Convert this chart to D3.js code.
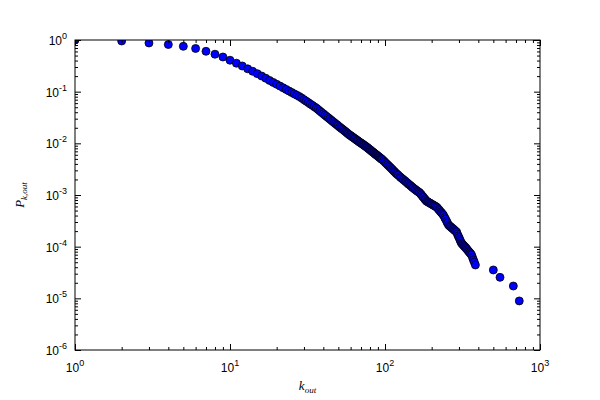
<!DOCTYPE html>
<html>
<head>
  <script src="https://d3js.org/d3.v7.min.js"></script>
  <style>
    body { margin: 0; padding: 0; background: white; overflow: hidden; }
    svg { display: block; }
  </style>
</head>
<body>
  <svg width="600" height="400"></svg>
  <script>
    // out-degree values and the cumulative probability
    const kOut = [
      1, 2, 3, 4, 5, 6, 7, 8, 9, 10, 11, 12, 13, 14, 15, 16, 17, 18, 19, 20,
      21, 22, 23, 24, 25, 26, 27, 28, 29, 30, 31, 32, 33, 34, 35, 36, 37, 38, 39, 40,
      41, 42, 43, 44, 45, 46, 47, 48, 49, 50, 51, 52, 53, 54, 55, 56, 57, 58, 59, 60,
      61, 62, 63, 64, 65, 66, 67, 68, 69, 70, 71, 72, 73, 74, 75, 76, 77, 78, 79, 80,
      81, 82, 83, 84, 85, 86, 87, 88, 89, 90, 91, 92, 93, 94, 95, 96, 98, 100,
      102, 104, 106, 108, 110, 112, 114, 116, 118, 120, 122, 125, 127, 130, 132,
      135, 137, 140, 142, 145, 147, 150, 152, 155, 157, 160, 162, 165, 167, 170,
      172, 175, 177, 180, 182, 185, 187, 190, 193, 196, 199, 202, 205, 208, 211,
      215, 218, 222, 225, 229, 232, 236, 239, 243, 246, 250, 253, 257, 261, 265,
      269, 273, 277, 281, 285, 290, 293, 297, 300, 304, 307, 311, 315, 319, 323,
      327, 331, 335, 339, 344, 348, 353, 357, 362, 367, 372, 377, 383,
      500, 552, 673, 735
    ];
    const pOut = [
      1, 0.957, 0.875, 0.818, 0.755, 0.686, 0.604, 0.531, 0.469, 0.406,
      0.356, 0.314, 0.277, 0.248, 0.223, 0.201, 0.182, 0.165, 0.151, 0.139,
      0.1285, 0.119, 0.1106, 0.1033, 0.0966, 0.0906, 0.0853, 0.0803, 0.0752, 0.0701,
      0.0656, 0.0614, 0.0575, 0.0543, 0.0511, 0.0483, 0.0452, 0.0422, 0.0397, 0.0373,
      0.0351, 0.0331, 0.0313, 0.0296, 0.0280, 0.0265, 0.0252, 0.0239, 0.0228, 0.0217,
      0.0206, 0.0197, 0.0189, 0.0181, 0.0173, 0.0166, 0.0158, 0.0152, 0.01456, 0.0141,
      0.0136, 0.01313, 0.0127, 0.01228, 0.01186, 0.01145, 0.01112, 0.01076, 0.0104, 0.01014,
      0.00984, 0.00955, 0.00929, 0.00902, 0.00875, 0.00849, 0.00826, 0.00798, 0.00773, 0.00752,
      0.00731, 0.00706, 0.00687, 0.00668, 0.0065, 0.00632, 0.00611, 0.00598, 0.00582, 0.00566,
      0.00551, 0.00536, 0.00524, 0.00509, 0.00495, 0.00484, 0.00459, 0.00432,
      0.00406, 0.00384, 0.00363, 0.00344, 0.00325, 0.00308, 0.00291, 0.00277, 0.00262, 0.00251,
      0.0024, 0.00225, 0.00215, 0.00204, 0.00196,
      0.00186, 0.00178, 0.00169, 0.00162, 0.00155, 0.00149, 0.00142, 0.00137, 0.00131, 0.00127,
      0.00122, 0.00118, 0.00114, 0.00111, 0.00105,
      0.001, 0.000938, 0.0009, 0.000847, 0.00081, 0.000766, 0.00075, 0.000729, 0.000708, 0.000691,
      0.000671, 0.000655, 0.000637, 0.000621, 0.000605,
      0.000586, 0.00056, 0.000525, 0.0005, 0.00047, 0.00045, 0.000424, 0.0004, 0.000363, 0.00034,
      0.000309, 0.000287, 0.000263, 0.000252, 0.000243,
      0.000233, 0.000225, 0.000217, 0.000208, 0.0002, 0.000192, 0.000176, 0.000161, 0.00015, 0.000138,
      0.000128, 0.000118, 0.000113, 0.000108, 0.000104,
      0.0000996, 0.0000959, 0.0000923, 0.0000878, 0.0000834, 0.00008, 0.0000759, 0.0000728,
      0.000069, 0.0000618, 0.0000553, 0.0000502, 0.0000442,
      0.0000354, 0.0000255, 0.0000173, 0.0000089
    ];
    const xDecades = [0, 1, 2, 3];
    const yDecades = [-6, -5, -4, -3, -2, -1, 0];

    const data = kOut.map((k, i) => ({ k: k, p: pOut[i] }));

    const svg = d3.select("svg");
    const plot = { left: 75, right: 540, top: 40, bottom: 350 };

    const x = d3.scaleLog().domain([1, 1000]).range([plot.left, plot.right]);
    const y = d3.scaleLog().domain([1e-6, 1]).range([plot.bottom, plot.top]);

    const minorsOf = (decs) => {
      const out = [];
      for (let i = 0; i < decs.length - 1; i++) {
        for (let m = 2; m <= 9; m++) out.push(m * Math.pow(10, decs[i]));
      }
      return out;
    };
    const xMajor = xDecades.map(e => Math.pow(10, e));
    const yMajor = yDecades.map(e => Math.pow(10, e));
    const xMinor = minorsOf(xDecades);
    const yMinor = minorsOf(yDecades);

    svg.append("clipPath").attr("id", "clip")
      .append("rect")
        .attr("x", plot.left).attr("y", plot.top)
        .attr("width", plot.right - plot.left).attr("height", plot.bottom - plot.top);

    svg.append("g")
        .attr("clip-path", "url(#clip)")
      .selectAll("circle")
      .data(data)
      .enter().append("circle")
        .attr("cx", d => x(d.k))
        .attr("cy", d => y(d.p))
        .attr("r", 4)
        .attr("fill", "#0000ff")
        .attr("stroke", "black")
        .attr("stroke-width", 0.8);

    // ticks pointing inward on all four sides
    function ticks(axisFn, scale, values, size, transform) {
      const g = svg.append("g")
        .attr("transform", transform)
        .call(axisFn(scale).tickValues(values).tickSize(size).tickFormat(""));
      g.select(".domain").remove();
      g.selectAll("line").attr("stroke", "black").attr("stroke-width", 1);
    }
    ticks(d3.axisBottom, x, xMajor, -6, `translate(0,${plot.bottom})`);
    ticks(d3.axisBottom, x, xMinor, -3, `translate(0,${plot.bottom})`);
    ticks(d3.axisTop, x, xMajor, -6, `translate(0,${plot.top})`);
    ticks(d3.axisTop, x, xMinor, -3, `translate(0,${plot.top})`);
    ticks(d3.axisLeft, y, yMajor, -6, `translate(${plot.left},0)`);
    ticks(d3.axisLeft, y, yMinor, -3, `translate(${plot.left},0)`);
    ticks(d3.axisRight, y, yMajor, -6, `translate(${plot.right},0)`);
    ticks(d3.axisRight, y, yMinor, -3, `translate(${plot.right},0)`);

    svg.append("rect")
      .attr("x", plot.left).attr("y", plot.top)
      .attr("width", plot.right - plot.left).attr("height", plot.bottom - plot.top)
      .attr("fill", "none")
      .attr("stroke", "black")
      .attr("stroke-width", 1);

    const font = "Liberation Sans, Arial, sans-serif";

    function powLabel(sel, e) {
      sel.append("tspan").text("10");
      sel.append("tspan")
        .attr("dy", -6)
        .attr("font-size", "9px")
        .text(e < 0 ? "-" + (-e) : String(e));
    }

    xDecades.forEach(e => {
      svg.append("text")
        .attr("x", x(Math.pow(10, e)))
        .attr("y", 372)
        .attr("text-anchor", "middle")
        .attr("font-family", font)
        .attr("font-size", "12px")
        .call(powLabel, e);
    });

    yDecades.forEach(e => {
      svg.append("text")
        .attr("x", plot.left - 8)
        .attr("y", y(Math.pow(10, e)) + 5)
        .attr("text-anchor", "end")
        .attr("font-family", font)
        .attr("font-size", "12px")
        .call(powLabel, e);
    });

    const xl = svg.append("text")
      .attr("x", (plot.left + plot.right) / 2)
      .attr("y", 390)
      .attr("text-anchor", "middle")
      .attr("font-family", "Liberation Serif, serif")
      .attr("font-style", "italic")
      .attr("font-size", "13px");
    xl.append("tspan").text("k");
    xl.append("tspan").attr("dy", 3).attr("font-size", "9px").text("out");

    const yl = svg.append("text")
      .attr("transform", `translate(24,${(plot.top + plot.bottom) / 2}) rotate(-90)`)
      .attr("text-anchor", "middle")
      .attr("font-family", "Liberation Serif, serif")
      .attr("font-style", "italic")
      .attr("font-size", "13px");
    yl.append("tspan").text("P");
    yl.append("tspan").attr("dy", 3).attr("font-size", "9px").text("k,out");
  </script>
</body>
</html>
